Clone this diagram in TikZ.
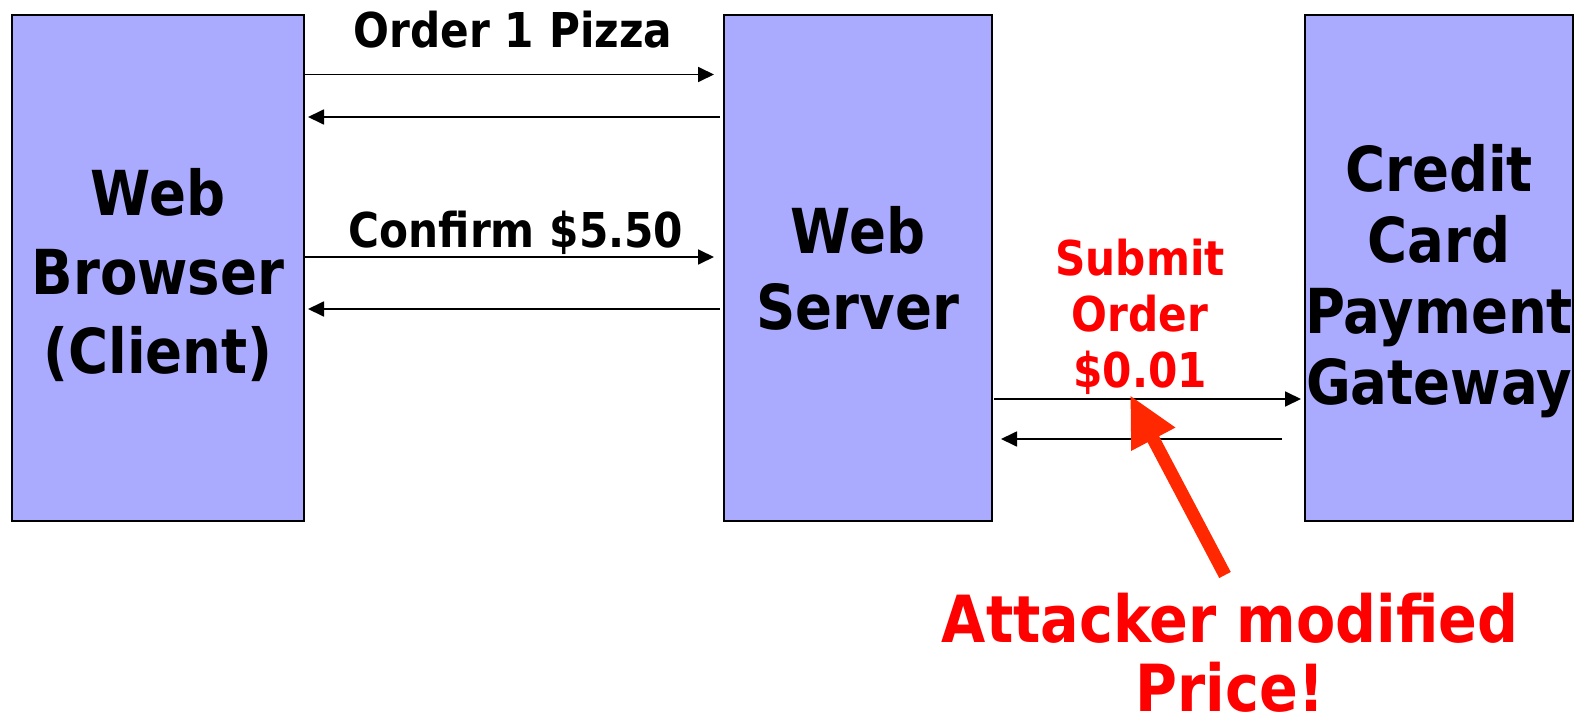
\documentclass[tikz,border=0pt]{standalone}
\usepackage{fontspec}
\setmainfont{DejaVu Sans}[FakeStretch=0.88]
\usetikzlibrary{arrows.meta,positioning}
\definecolor{boxblue}{RGB}{170,170,255}
\definecolor{attred}{RGB}{255,0,0}
\definecolor{arrred}{RGB}{255,40,0}
\tikzset{
  party/.style={draw=black,line width=2pt,fill=boxblue,minimum height=506pt,inner sep=0pt},
  partytext/.style={align=center,inner sep=0pt,font=\bfseries\fontsize{62}{#1}\selectfont},
  msg/.style={line width=1.8pt,-{Triangle[length=16pt,width=15pt]}},
  lbl/.style={font=\bfseries\fontsize{48}{56}\selectfont,inner sep=0pt},
}
\begin{document}
\begin{tikzpicture}[x=1pt,y=-1pt]
\useasboundingbox (0,0) rectangle (1580,720);
\node[party,minimum width=292pt] (b1) at (158,268) {};
\node[party,minimum width=268pt] (b2) at (858,268) {};
\node[party,minimum width=268pt] (b3) at (1439,268) {};
\node[partytext=79] (t1) at ([yshift=-7pt]b1.center) {Web\\Browser\\(Client)};
\node[partytext=76] (t2) at (b2.center) {Web\\Server};
\node[partytext=71] (t3) at ([yshift=-13pt]b3.center) {Credit\\Card\\Payment\\Gateway};
% messages browser <-> server
\draw[msg] ([xshift=-2pt,yshift=-60.5pt]b1.north east) -- ([xshift=-9pt,yshift=-60.5pt]b2.north west);
\draw[msg] ([xshift=-3pt,yshift=-103pt]b2.north west) -- ([xshift=3pt,yshift=-103pt]b1.north east);
\draw[msg] ([xshift=-2pt,yshift=-243pt]b1.north east) -- ([xshift=-9pt,yshift=-243pt]b2.north west);
\draw[msg] ([xshift=-3pt,yshift=-295pt]b2.north west) -- ([xshift=3pt,yshift=-295pt]b1.north east);
% server <-> gateway
\draw[msg] ([xshift=1pt,yshift=-385pt]b2.north east) -- ([xshift=-3pt,yshift=-385pt]b3.north west);
\draw[msg] ([xshift=-22pt,yshift=-425pt]b3.north west) -- ([xshift=8pt,yshift=-425pt]b2.north east);
% labels
\node[lbl] (l1) at (513,30) {Order 1 Pizza};
\node[lbl] (l2) at (516,233) {Confirm \$5.50};
\node[font=\bfseries\fontsize{48}{56}\selectfont,text=attred,align=center,inner sep=0pt] (l3) at (1140,317) {Submit\\Order\\\$0.01};
\node[font=\bfseries\fontsize{65}{69}\selectfont,text=attred,align=center,inner sep=0pt] (att) at (1230,653) {Attacker modified\\Price!};
% attacker arrow
\coordinate (tail) at (1225,575);
\coordinate (tip) at (1130,395);
\draw[arrred,line width=13pt,-{Triangle[length=50pt,width=46pt]}] (tail) -- (tip);
\end{tikzpicture}
\end{document}
